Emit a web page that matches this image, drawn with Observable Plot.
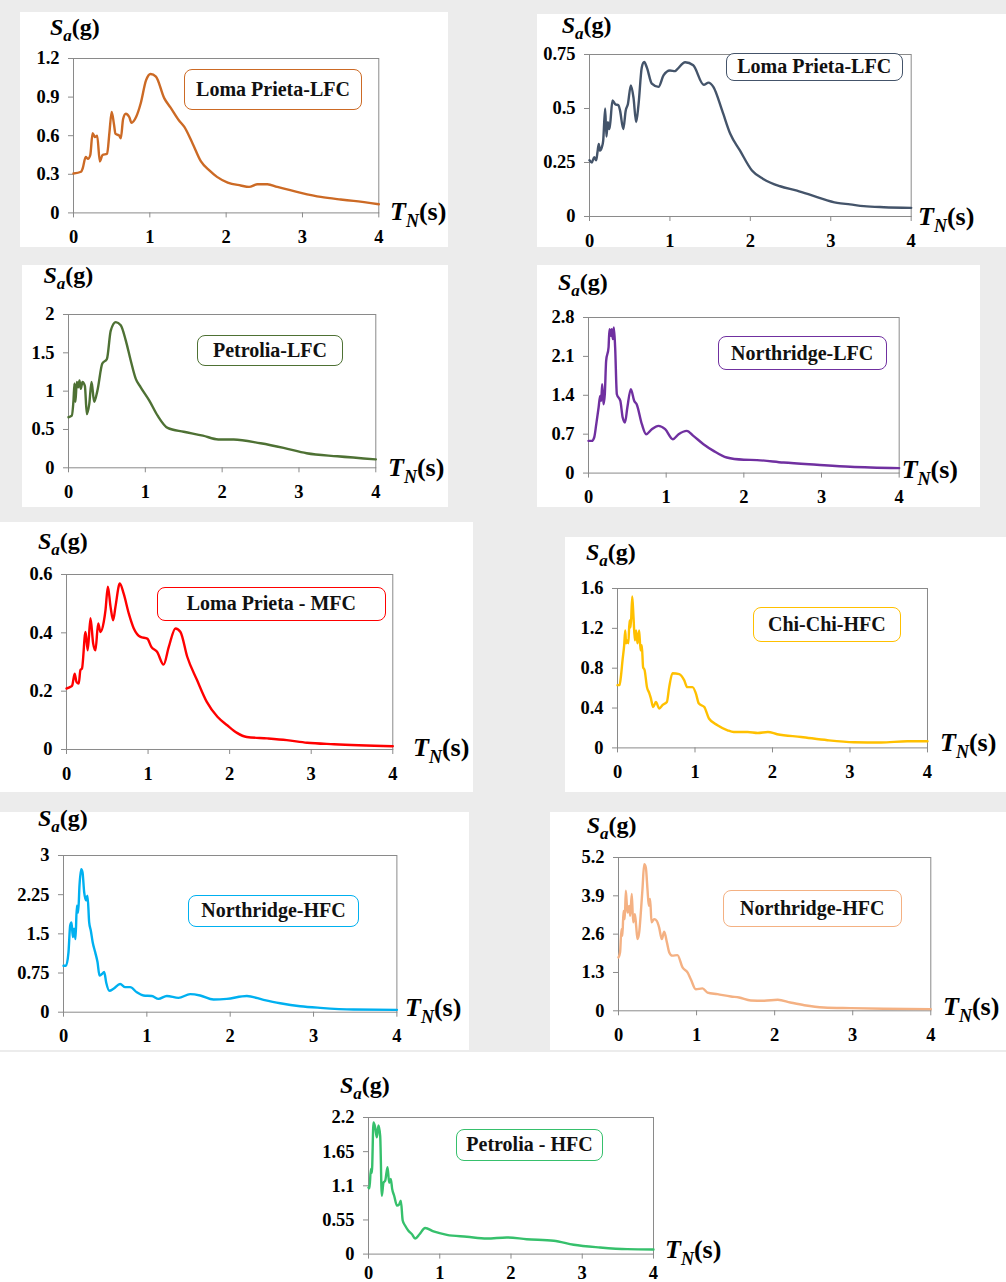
<!DOCTYPE html>
<html><head><meta charset="utf-8">
<script src="https://cdn.jsdelivr.net/npm/d3@7"></script>
<script src="https://cdn.jsdelivr.net/npm/@observablehq/plot@0.6"></script>
<style>
html,body{margin:0;padding:0;background:#fff;overflow:hidden;}
#page{position:relative;width:1006px;height:1282px;overflow:hidden;background:#fff;font-family:"Liberation Serif","Times New Roman",serif;}
.wm{position:absolute;background:#ececec;}
.panelbg{position:absolute;background:#fff;}
.lbl{position:absolute;font-weight:bold;white-space:nowrap;line-height:1;transform:translateY(-50%);color:#000;}
.lbl .sub{font-style:italic;position:relative;}
.leg{position:absolute;box-sizing:border-box;background:#fff;border-radius:8px;display:flex;align-items:center;justify-content:center;font-weight:bold;font-size:20px;color:#111;white-space:nowrap;}
</style></head><body><div id="page"></div>
<script>
// ---------- DATA (period T_N in s, spectral acceleration Sa in g) ----------
const xTicks = [0, 1, 2, 3, 4];

const lomaPrietaLFC_A = [[0,0.306],[0.1,0.32],[0.12,0.345],[0.16,0.435],[0.19,0.42],[0.22,0.45],[0.25,0.62],[0.28,0.59],[0.31,0.60],[0.345,0.40],[0.38,0.45],[0.44,0.46],[0.47,0.62],[0.50,0.785],[0.53,0.69],[0.55,0.615],[0.6,0.60],[0.62,0.58],[0.65,0.73],[0.685,0.77],[0.73,0.745],[0.76,0.70],[0.82,0.745],[0.88,0.85],[0.95,1.03],[1.01,1.08],[1.08,1.06],[1.19,0.89],[1.27,0.82],[1.38,0.72],[1.45,0.67],[1.56,0.54],[1.67,0.40],[1.78,0.33],[1.88,0.28],[2.02,0.236],[2.19,0.213],[2.3,0.202],[2.41,0.223],[2.54,0.223],[2.67,0.202],[2.98,0.156],[3.24,0.124],[3.5,0.104],[3.67,0.093],[4,0.067]];
const lomaPrietaLFC_ATicks = [0, 0.3, 0.6, 0.9, 1.2];

const lomaPrietaLFC_B = [[0,0.26],[0.03,0.25],[0.058,0.275],[0.083,0.26],[0.10,0.30],[0.115,0.336],[0.13,0.305],[0.153,0.32],[0.17,0.35],[0.195,0.50],[0.21,0.37],[0.228,0.437],[0.245,0.405],[0.257,0.43],[0.286,0.537],[0.32,0.52],[0.36,0.515],[0.38,0.49],[0.42,0.405],[0.45,0.49],[0.477,0.52],[0.514,0.607],[0.547,0.55],[0.58,0.437],[0.61,0.52],[0.65,0.69],[0.68,0.715],[0.713,0.69],[0.775,0.615],[0.858,0.60],[0.92,0.653],[1.0,0.676],[1.065,0.673],[1.086,0.68],[1.19,0.714],[1.29,0.70],[1.42,0.61],[1.48,0.62],[1.54,0.60],[1.65,0.49],[1.75,0.383],[1.87,0.306],[2.02,0.213],[2.16,0.174],[2.37,0.14],[2.58,0.12],[2.83,0.09],[3.08,0.063],[3.24,0.056],[3.41,0.048],[3.66,0.043],[4,0.04]];
const lomaPrietaLFC_BTicks = [0, 0.25, 0.5, 0.75];

const petroliaLFC = [[0,0.66],[0.043,0.68],[0.065,0.88],[0.078,1.10],[0.09,0.86],[0.108,1.12],[0.126,1.05],[0.143,1.14],[0.16,1.03],[0.182,1.12],[0.213,1.07],[0.239,0.70],[0.27,0.83],[0.30,1.12],[0.334,0.86],[0.377,1.01],[0.44,1.36],[0.50,1.42],[0.55,1.79],[0.616,1.90],[0.68,1.86],[0.746,1.66],[0.81,1.40],[0.876,1.16],[0.94,1.05],[1.05,0.88],[1.16,0.68],[1.29,0.52],[1.5,0.47],[1.75,0.42],[1.95,0.37],[2.15,0.37],[2.5,0.32],[2.8,0.26],[3.1,0.19],[3.5,0.15],[4,0.11]];
const petroliaLFCTicks = [0, 0.5, 1, 1.5, 2];

const northridgeLFC = [[0,0.58],[0.043,0.58],[0.073,0.64],[0.1,0.88],[0.13,1.18],[0.15,1.39],[0.163,1.30],[0.176,1.60],[0.193,1.24],[0.21,1.42],[0.227,2.02],[0.258,2.26],[0.27,2.59],[0.288,2.47],[0.30,2.59],[0.313,2.41],[0.326,2.62],[0.343,2.26],[0.365,1.42],[0.41,1.30],[0.44,1.00],[0.47,0.91],[0.50,1.18],[0.545,1.51],[0.588,1.30],[0.62,1.24],[0.687,0.88],[0.742,0.70],[0.815,0.79],[0.90,0.85],[0.987,0.79],[1.086,0.61],[1.16,0.70],[1.266,0.76],[1.35,0.67],[1.48,0.52],[1.61,0.40],[1.78,0.28],[2.0,0.24],[2.17,0.234],[2.51,0.19],[2.94,0.15],[3.37,0.114],[4,0.09]];
const northridgeLFCTicks = [0, 0.7, 1.4, 2.1, 2.8];

const lomaPrietaMFC = [[0,0.209],[0.05,0.215],[0.07,0.22],[0.1,0.26],[0.122,0.232],[0.15,0.226],[0.17,0.272],[0.19,0.278],[0.233,0.403],[0.26,0.34],[0.294,0.45],[0.327,0.363],[0.355,0.34],[0.388,0.432],[0.417,0.403],[0.457,0.438],[0.478,0.478],[0.507,0.558],[0.54,0.489],[0.572,0.443],[0.60,0.489],[0.654,0.569],[0.70,0.535],[0.764,0.466],[0.825,0.415],[0.907,0.386],[0.99,0.38],[1.04,0.352],[1.11,0.335],[1.19,0.291],[1.254,0.352],[1.336,0.415],[1.397,0.403],[1.48,0.318],[1.60,0.238],[1.72,0.163],[1.85,0.112],[1.97,0.083],[2.09,0.057],[2.21,0.043],[2.46,0.038],[2.70,0.032],[2.95,0.023],[3.28,0.018],[4,0.011]];
const lomaPrietaMFCTicks = [0, 0.2, 0.4, 0.6];

const chiChiHFC = [[0,0.63],[0.026,0.63],[0.043,0.71],[0.065,0.88],[0.086,1.03],[0.1,1.18],[0.11,1.05],[0.13,1.08],[0.14,1.05],[0.155,1.28],[0.17,1.21],[0.19,1.52],[0.206,1.32],[0.224,1.08],[0.24,1.18],[0.258,1.05],[0.28,1.18],[0.297,0.98],[0.314,1.03],[0.33,0.81],[0.35,0.78],[0.38,0.61],[0.41,0.55],[0.43,0.50],[0.46,0.41],[0.495,0.46],[0.54,0.395],[0.58,0.43],[0.637,0.46],[0.667,0.61],[0.71,0.75],[0.796,0.74],[0.86,0.68],[0.90,0.61],[0.968,0.61],[1.01,0.55],[1.05,0.445],[1.12,0.41],[1.18,0.295],[1.29,0.228],[1.42,0.177],[1.5,0.16],[1.68,0.16],[1.81,0.15],[1.94,0.16],[2.06,0.137],[2.37,0.11],[2.71,0.077],[3.05,0.057],[3.4,0.054],[3.74,0.067],[4,0.067]];
const chiChiHFCTicks = [0, 0.4, 0.8, 1.2, 1.6];

const northridgeHFC_A = [[0,0.89],[0.03,0.89],[0.06,1.15],[0.08,1.66],[0.096,1.72],[0.112,1.44],[0.128,1.60],[0.144,1.40],[0.16,2.04],[0.176,1.91],[0.192,2.43],[0.212,2.74],[0.228,2.68],[0.248,2.30],[0.27,2.14],[0.288,2.23],[0.308,1.72],[0.328,1.56],[0.35,1.34],[0.38,1.15],[0.408,0.96],[0.432,0.70],[0.46,0.73],[0.488,0.77],[0.512,0.57],[0.552,0.41],[0.6,0.45],[0.68,0.54],[0.74,0.48],[0.80,0.48],[0.88,0.38],[0.96,0.32],[1.06,0.31],[1.14,0.255],[1.24,0.31],[1.38,0.275],[1.52,0.345],[1.64,0.32],[1.80,0.243],[1.96,0.255],[2.2,0.31],[2.4,0.236],[2.6,0.172],[2.84,0.115],[3.08,0.083],[3.48,0.051],[4,0.045]];
const northridgeHFC_ATicks = [0, 0.75, 1.5, 2.25, 3];

const northridgeHFC_B = [[0,1.81],[0.02,1.98],[0.038,2.77],[0.05,2.54],[0.064,3.39],[0.08,3.11],[0.094,4.07],[0.115,3.33],[0.137,3.56],[0.15,3.22],[0.17,3.96],[0.188,3.0],[0.21,3.28],[0.226,2.88],[0.243,2.43],[0.265,2.66],[0.286,3.33],[0.307,4.13],[0.329,4.97],[0.35,4.86],[0.371,4.13],[0.388,3.56],[0.405,3.79],[0.423,3.0],[0.457,3.11],[0.49,3.05],[0.52,2.83],[0.555,2.43],[0.585,2.68],[0.62,2.32],[0.65,1.98],[0.69,1.87],[0.755,1.89],[0.82,1.47],[0.884,1.30],[0.926,1.07],[0.99,0.73],[1.076,0.76],[1.14,0.62],[1.268,0.565],[1.44,0.486],[1.545,0.45],[1.695,0.35],[1.866,0.34],[2.04,0.373],[2.2,0.283],[2.38,0.19],[2.63,0.113],[2.975,0.09],[3.40,0.068],[4,0.057]];
const northridgeHFC_BTicks = [0, 1.3, 2.6, 3.9, 5.2];

const petroliaHFC = [[0,1.07],[0.014,1.06],[0.033,1.37],[0.047,1.31],[0.07,2.12],[0.094,2.04],[0.117,1.88],[0.14,2.07],[0.164,1.90],[0.187,0.94],[0.21,1.15],[0.234,1.18],[0.267,1.40],[0.29,1.15],[0.313,1.21],[0.332,1.05],[0.36,0.94],[0.40,0.78],[0.43,0.80],[0.454,0.86],[0.48,0.54],[0.515,0.456],[0.56,0.376],[0.61,0.32],[0.655,0.25],[0.716,0.32],[0.795,0.42],[0.912,0.365],[1.1,0.31],[1.38,0.28],[1.66,0.25],[1.94,0.268],[2.22,0.24],[2.6,0.215],[2.88,0.15],[3.25,0.107],[3.63,0.08],[4,0.075]];
const petroliaHFCTicks = [0, 0.55, 1.1, 1.65, 2.2];

// ---------- LAYOUT ----------
const panels = [
  {data: lomaPrietaLFC_A, ticks: lomaPrietaLFC_ATicks, name: "Loma Prieta-LFC", color: "#cc6a25",
   frame: [72.7, 378, 58.3, 212.7], box: [184, 69, 362, 110], sa: [50, 27], tn: [390, 212], bg: [20, 12, 448, 247], pad: 12},
  {data: lomaPrietaLFC_B, ticks: lomaPrietaLFC_BTicks, name: "Loma Prieta-LFC", color: "#44546a",
   frame: [589.3, 911, 54, 216], box: [725.7, 52.5, 902.7, 81], sa: [561.7, 25], tn: [918, 216.5], bg: [537, 14, 1006, 247], pad: 12},
  {data: petroliaLFC, ticks: petroliaLFCTicks, name: "Petrolia-LFC", color: "#4e7134",
   frame: [67.7, 375, 314, 467.3], box: [197, 335, 343, 366], sa: [43.5, 275], tn: [388, 468], bg: [22, 265, 448, 507], pad: 12},
  {data: northridgeLFC, ticks: northridgeLFCTicks, name: "Northridge-LFC", color: "#7030a0",
   frame: [588.3, 899, 316.7, 472.3], box: [717.7, 336, 886.7, 370], sa: [558, 281.7], tn: [901.7, 470], bg: [537, 265, 980, 507], pad: 12},
  {data: lomaPrietaMFC, ticks: lomaPrietaMFCTicks, name: "Loma Prieta - MFC", color: "#ff0000",
   frame: [66, 392.3, 574.3, 749.3], box: [156.7, 586.7, 386, 621], sa: [38, 540.7], tn: [413, 748], bg: [0, 522, 473, 792], pad: 12},
  {data: chiChiHFC, ticks: chiChiHFCTicks, name: "Chi-Chi-HFC", color: "#ffc000",
   frame: [616.7, 926.7, 588.3, 747.7], box: [753, 606.7, 900.7, 642.3], sa: [586, 551.7], tn: [940, 743], bg: [565, 537, 1006, 792], pad: 12},
  {data: northridgeHFC_A, ticks: northridgeHFC_ATicks, name: "Northridge-HFC", color: "#00b0f0",
   frame: [63.3, 396.7, 855, 1011.7], box: [187.7, 895, 359.3, 926.7], sa: [38, 818], tn: [405, 1008], bg: [0, 812, 469, 1050], pad: 12},
  {data: northridgeHFC_B, ticks: northridgeHFC_BTicks, name: "Northridge-HFC", color: "#f4b183",
   frame: [617.7, 930, 856.7, 1010], box: [722.7, 890, 901.7, 927.3], sa: [586.7, 825], tn: [943, 1006.7], bg: [550, 812, 1006, 1050], pad: 12},
  {data: petroliaHFC, ticks: petroliaHFCTicks, name: "Petrolia - HFC", color: "#36c06c",
   frame: [368.3, 653.3, 1116.7, 1253.3], box: [455.7, 1129, 603.3, 1160.7], sa: [340, 1085], tn: [665, 1250], bg: [320, 1065, 700, 1282], pad: 7}
];

const page = document.getElementById("page");
function addDiv(cls, x0, y0, x1, y1, extra) {
  const d = document.createElement("div");
  d.className = cls;
  d.style.left = x0 + "px"; d.style.top = y0 + "px";
  d.style.width = (x1 - x0) + "px"; d.style.height = (y1 - y0) + "px";
  if (extra) Object.assign(d.style, extra);
  page.appendChild(d);
  return d;
}
// faint background watermark region
addDiv("wm", 0, 0, 1006, 1052);
for (const p of panels) addDiv("panelbg", ...p.bg);

const mL = 60, mR = 10, mT = 10, mB = 40;
for (const p of panels) {
  const [L, R, T, B] = p.frame;
  const ymax = p.ticks[p.ticks.length - 1];
  const chart = Plot.plot({
    width: R - L + mL + mR,
    height: B - T + mT + mB,
    marginLeft: mL, marginRight: mR, marginTop: mT, marginBottom: mB,
    x: {domain: [0, 4]},
    y: {domain: [0, ymax]},
    style: {fontFamily: "'Liberation Serif','Times New Roman',serif", fontWeight: "bold", fontSize: "18.5px", color: "#000", background: "transparent", overflow: "visible"},
    marks: [
      Plot.frame({stroke: "#8a8a8a", strokeWidth: 1}),
      Plot.axisX({ticks: xTicks, tickSize: 5, tickPadding: p.pad, stroke: "#8a8a8a", label: null, tickFormat: d => String(d)}),
      Plot.axisY({ticks: p.ticks, tickSize: 5, tickPadding: 9, stroke: "#8a8a8a", label: null, tickFormat: d => String(d)}),
      Plot.line(p.data, {x: d => d[0], y: d => d[1], stroke: p.color, strokeWidth: 2.4, curve: "monotone-x"})
    ]
  });
  chart.style.position = "absolute";
  chart.style.left = (L - mL) + "px";
  chart.style.top = (T - mT) + "px";
  page.appendChild(chart);

  const [bx0, by0, bx1, by1] = p.box;
  const leg = addDiv("leg", bx0, by0, bx1, by1, {border: "1.6px solid " + p.color});
  leg.textContent = p.name;

  const sa = document.createElement("div");
  sa.className = "lbl";
  sa.style.left = p.sa[0] + "px"; sa.style.top = p.sa[1] + "px"; sa.style.fontSize = "24px";
  sa.innerHTML = '<i>S</i><span class="sub" style="font-size:17px;top:6px;">a</span>(g)';
  page.appendChild(sa);

  const tn = document.createElement("div");
  tn.className = "lbl";
  tn.style.left = p.tn[0] + "px"; tn.style.top = p.tn[1] + "px"; tn.style.fontSize = "26px";
  tn.innerHTML = '<i>T</i><span class="sub" style="font-size:18px;top:7px;">N</span>(s)';
  page.appendChild(tn);
}
</script></body></html>
